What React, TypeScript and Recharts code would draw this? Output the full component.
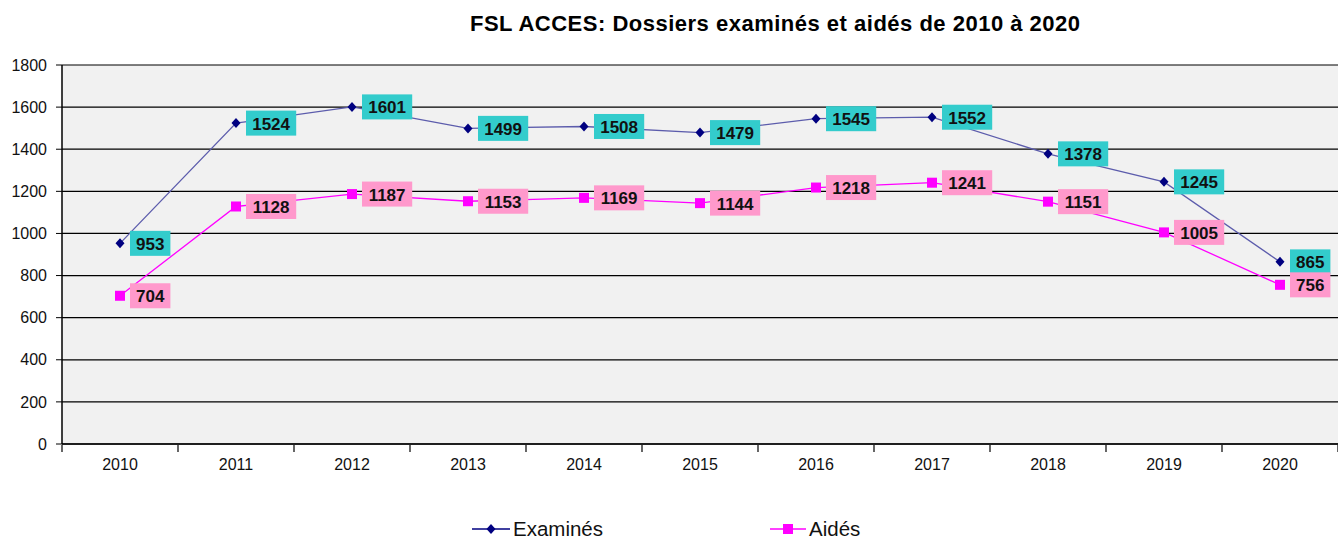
import { LineChart, Line, XAxis, YAxis, CartesianGrid, LabelList } from 'recharts';

const years = [2010, 2011, 2012, 2013, 2014, 2015, 2016, 2017, 2018, 2019, 2020];
const examines = [953, 1524, 1601, 1499, 1508, 1479, 1545, 1552, 1378, 1245, 865];
const aides = [704, 1128, 1187, 1153, 1169, 1144, 1218, 1241, 1151, 1005, 756];
const yTicks = [0, 200, 400, 600, 800, 1000, 1200, 1400, 1600, 1800];
const bandEdges = [2009.5, 2010.5, 2011.5, 2012.5, 2013.5, 2014.5, 2015.5, 2016.5, 2017.5, 2018.5, 2019.5, 2020.5];

const data = years.map((year, i) => ({ year, examines: examines[i], aides: aides[i] }));

const FONT = '"Liberation Sans", Arial, sans-serif';

const Diamond = (props: any) => {
  const { cx, cy } = props;
  if (cx == null || cy == null) return null;
  return <polygon points={`${cx},${cy - 5} ${cx + 4.5},${cy} ${cx},${cy + 5} ${cx - 4.5},${cy}`} fill="#000080" />;
};

const Square = (props: any) => {
  const { cx, cy } = props;
  if (cx == null || cy == null) return null;
  return <rect x={cx - 5} y={cy - 5} width={10} height={10} fill="#ff00ff" />;
};

// value boxes to the right of each point
const boxLabel = (bg: string) => (props: any) => {
  const { x, y, value } = props;
  const txt = String(value);
  const w = txt.length * 9.8 + 11;
  return (
    <g>
      <rect x={x + 10} y={y - 12.5} width={w} height={25} fill={bg} />
      <text x={x + 10 + w / 2} y={y + 1} textAnchor="middle" dominantBaseline="central" fontFamily={FONT} fontSize={17} fontWeight="bold" fill="#111">
        {txt}
      </text>
    </g>
  );
};

export default function App() {
  return (
    <div style={{ position: 'absolute', left: 0, top: 0, width: 1338, height: 540, overflow: 'hidden', background: '#fff', fontFamily: FONT }}>
      <div style={{ position: 'absolute', left: 470, top: 11, whiteSpace: 'nowrap', fontSize: 22, letterSpacing: 0.5, fontWeight: 'bold', color: '#000' }}>
        FSL ACCES: Dossiers examinés et aidés de 2010 à 2020
      </div>
      <LineChart width={1338} height={540} data={data} margin={{ top: 65, right: 0, left: 0, bottom: 66 }}>
        <CartesianGrid vertical={false} stroke="#000" strokeWidth={1.2} fill="#f1f1f1" />
        <XAxis
          type="number"
          dataKey="year"
          domain={[2009.5, 2020.5]}
          ticks={years}
          interval={0}
          height={1}
          tickLine={false}
          tickSize={0}
          tickMargin={15}
          axisLine={{ stroke: '#000', strokeWidth: 1.5 }}
          tick={{ fontSize: 16, fill: '#111', fontFamily: FONT }}
        />
        <XAxis
          xAxisId="edges"
          type="number"
          dataKey="year"
          domain={[2009.5, 2020.5]}
          ticks={bandEdges}
          interval={0}
          height={29}
          axisLine={false}
          tickFormatter={() => ''}
          tick={{ fill: 'transparent', fontSize: 1 }}
          tickSize={7}
          tickLine={{ stroke: '#000', strokeWidth: 1.2 }}
        />
        <YAxis
          width={62}
          domain={[0, 1800]}
          ticks={yTicks}
          interval={0}
          tickSize={6}
          tickMargin={9}
          axisLine={{ stroke: '#000', strokeWidth: 1.5 }}
          tickLine={{ stroke: '#000' }}
          tick={{ fontSize: 16, fill: '#111', fontFamily: FONT }}
        />
        <Line dataKey="examines" stroke="#5c5cac" strokeWidth={1.3} dot={<Diamond />} activeDot={false} isAnimationActive={false}>
          <LabelList dataKey="examines" content={boxLabel('#33cccc')} />
        </Line>
        <Line dataKey="aides" stroke="#ff00ff" strokeWidth={1.3} dot={<Square />} activeDot={false} isAnimationActive={false}>
          <LabelList dataKey="aides" content={boxLabel('#ff99cc')} />
        </Line>
      </LineChart>
      <div style={{ position: 'absolute', left: 472, top: 519, fontSize: 20.5, lineHeight: 1, color: '#111', display: 'flex', alignItems: 'center' }}>
        <svg width={38} height={14}>
          <line x1={0} y1={7} x2={38} y2={7} stroke="#000080" strokeWidth={1.3} />
          <polygon points="19,2 23.5,7 19,12 14.5,7" fill="#000080" />
        </svg>
        <span style={{ marginLeft: 3 }}>Examinés</span>
      </div>
      <div style={{ position: 'absolute', left: 770, top: 519, fontSize: 20.5, lineHeight: 1, color: '#111', display: 'flex', alignItems: 'center' }}>
        <svg width={36} height={14}>
          <line x1={0} y1={7} x2={36} y2={7} stroke="#ff00ff" strokeWidth={1.3} />
          <rect x={13} y={2} width={10} height={10} fill="#ff00ff" />
        </svg>
        <span style={{ marginLeft: 3 }}>Aidés</span>
      </div>
    </div>
  );
}
